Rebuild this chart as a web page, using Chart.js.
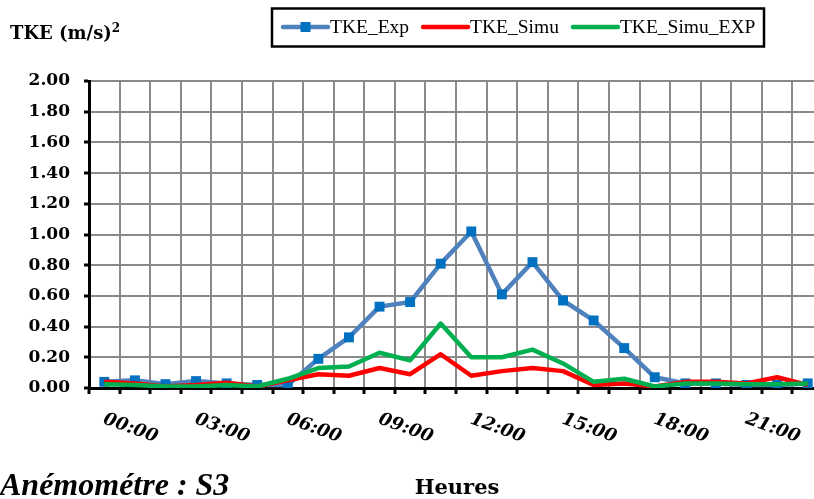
<!DOCTYPE html>
<html>
<head>
<meta charset="utf-8">
<script src="https://cdn.jsdelivr.net/npm/chart.js@4/dist/chart.umd.min.js"></script>
<style>
  html, body { margin: 0; padding: 0; background: #fff; overflow: hidden; width: 814px; height: 499px; }
  #wrap { position: absolute; left: 0; top: 0; width: 830px; height: 499px; }
  .txt { position: absolute; color: #000; white-space: nowrap; }
  #ytitle { left: 10px; top: 22px; font: bold 18px "DejaVu Serif"; }
  #ytitle sup { font-size: 12px; vertical-align: 7px; line-height: 0; }
  #xtitle { left: 457px; top: 474px; transform: translateX(-50%); font: bold 21px "DejaVu Serif"; }
  #caption { left: 0px; top: 466px; font: bold italic 32px "Liberation Serif"; }
</style>
</head>
<body>
<div id="wrap"><canvas id="c" width="830" height="499"></canvas></div>
<div class="txt" id="ytitle">TKE (m/s)<sup>2</sup></div>
<div class="txt" id="xtitle">Heures</div>
<div class="txt" id="caption">Anémométre : S3</div>
<script>
const hours = ["00:00","01:00","02:00","03:00","04:00","05:00","06:00","07:00","08:00","09:00","10:00","11:00",
               "12:00","13:00","14:00","15:00","16:00","17:00","18:00","19:00","20:00","21:00","22:00","23:00"];
const xTickLabels = ["00:00","03:00","06:00","09:00","12:00","15:00","18:00","21:00"];
const yTicks = [0,0.2,0.4,0.6,0.8,1.0,1.2,1.4,1.6,1.8,2.0];
const tkeExp = [0.04,0.05,0.025,0.045,0.03,0.02,0.02,0.19,0.33,0.53,0.56,0.81,1.02,0.61,0.82,0.57,0.44,0.26,0.07,0.03,0.03,0.02,0.02,0.03];
const tkeSimu = [0.04,0.03,0.01,0.02,0.035,0.01,0.05,0.09,0.08,0.13,0.09,0.22,0.08,0.11,0.13,0.11,0.02,0.03,0.01,0.04,0.04,0.03,0.07,0.02];
const tkeSimuExp = [0.025,0.02,0.01,0.01,0.02,0.01,0.06,0.13,0.14,0.23,0.18,0.42,0.20,0.20,0.25,0.16,0.04,0.06,0.01,0.03,0.03,0.025,0.025,0.03];

const xLabelPlugin = {
  id: 'xLabels',
  afterDraw(chart) {
    const ctx = chart.ctx, xs = chart.scales.x;
    ctx.save();
    ctx.fillStyle = '#000';
    ctx.font = 'italic bold 18px "DejaVu Serif"';
    ctx.textAlign = 'left';
    ctx.textBaseline = 'alphabetic';
    xTickLabels.forEach(lbl => {
      const i = hours.indexOf(lbl);
      const x = xs.getPixelForValue(i);
      ctx.save();
      ctx.translate(x - 2, 423);
      ctx.rotate(20 * Math.PI / 180);
      ctx.fillText(lbl, 0, 0);
      ctx.restore();
    });
    ctx.restore();
  }
};

const legendPlugin = {
  id: 'boxLegend',
  afterDraw(chart) {
    const ctx = chart.ctx;
    ctx.save();
    ctx.strokeStyle = '#000';
    ctx.lineWidth = 2.5;
    ctx.strokeRect(272, 8.5, 492, 38);
    ctx.font = '19.5px "Liberation Serif"';
    ctx.textBaseline = 'middle';
    ctx.fillStyle = '#000';
    let x = 283;
    const y = 27;
    chart.data.datasets.forEach(ds => {
      ctx.strokeStyle = ds.borderColor;
      ctx.lineWidth = 4.5;
      ctx.lineCap = 'round';
      ctx.beginPath();
      ctx.moveTo(x, y);
      ctx.lineTo(x + 45, y);
      ctx.stroke();
      if (ds.pointRadius > 0) {
        ctx.fillStyle = ds.pointBackgroundColor;
        ctx.fillRect(x + 22.5 - 5, y - 5, 10, 10);
      }
      ctx.fillStyle = '#000';
      ctx.fillText(ds.label, x + 47, y + 1);
      x += 47 + ctx.measureText(ds.label).width + 14;
    });
    ctx.restore();
  }
};

new Chart(document.getElementById('c'), {
  type: 'line',
  data: {
    labels: hours,
    datasets: [
      { label: 'TKE_Exp', data: tkeExp, borderColor: '#4F81BD', borderWidth: 4.5,
        pointStyle: 'rect', pointRadius: 7, pointBackgroundColor: '#0070C0', pointBorderColor: '#0070C0',
        pointBorderWidth: 0, tension: 0, borderJoinStyle: 'round', order: 2 },
      { label: 'TKE_Simu', data: tkeSimu, borderColor: '#FF0000', borderWidth: 4.5,
        pointRadius: 0, tension: 0, borderJoinStyle: 'round', order: 1 },
      { label: 'TKE_Simu_EXP', data: tkeSimuExp, borderColor: '#00B050', borderWidth: 4.5,
        pointRadius: 0, tension: 0, borderJoinStyle: 'round', order: 0 }
    ]
  },
  options: {
    responsive: false,
    devicePixelRatio: 1,
    animation: false,
    layout: { padding: { top: 81, left: 0, right: 7, bottom: 0 } },
    plugins: { legend: { display: false }, tooltip: { enabled: false } },
    scales: {
      x: {
        type: 'category',
        offset: true,
        grid: { offset: true, color: '#8a8a8a', lineWidth: 2, tickColor: '#000', tickLength: 6, tickWidth: 3 },
        border: { color: '#000', width: 3 },
        ticks: { display: false, autoSkip: false },
        afterFit(scale) { scale.height = 111; }
      },
      y: {
        min: 0, max: 2,
        afterBuildTicks(scale) { scale.ticks = yTicks.map(v => ({ value: v })); },
        ticks: {
          callback: v => Number(v).toFixed(2),
          color: '#000',
          font: { family: 'DejaVu Serif', weight: 'bold', size: 17 },
          padding: 14
        },
        grid: { color: '#8a8a8a', lineWidth: 2, tickColor: '#000', tickLength: 5, tickWidth: 3 },
        border: { color: '#000', width: 3 },
        afterFit(scale) { scale.width = 89; }
      }
    }
  },
  plugins: [xLabelPlugin, legendPlugin]
});
</script>
</body>
</html>
